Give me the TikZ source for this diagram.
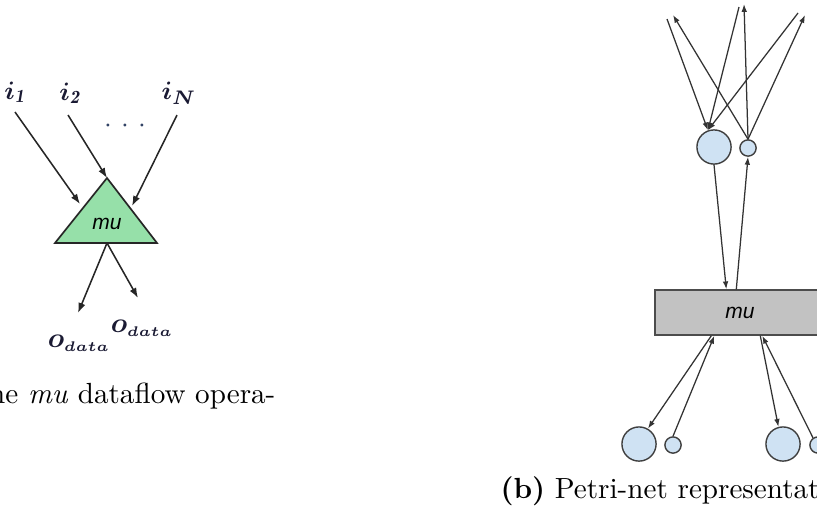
\documentclass[tikz,border=0pt]{standalone}
\usepackage{fontspec}
\usepackage{amsmath,bm}
\usetikzlibrary{arrows.meta,calc}
\newfontfamily\arialfont{Liberation Sans}
\definecolor{placeblue}{HTML}{CFE2F3}
\definecolor{trigreen}{HTML}{96E0A9}
\definecolor{boxgray}{HTML}{C2C2C2}
\definecolor{labelcol}{HTML}{1A1A33}
\definecolor{dotcol}{HTML}{334466}
\begin{document}
\begin{tikzpicture}[x=0.357pt,y=-0.357pt,
  larr/.style={line width=0.55pt,draw=black!85,-{Latex[length=3.6pt,width=2.6pt]}},
  rarr/.style={line width=0.45pt,draw=black!80,-{Latex[length=2.8pt,width=2pt]}},
  bigplace/.style={circle,draw=black!75,line width=0.5pt,fill=placeblue,minimum size=12.2pt,inner sep=0pt},
  smallplace/.style={circle,draw=black!75,line width=0.5pt,fill=placeblue,minimum size=5.8pt,inner sep=0pt},
  opfont/.style={font=\arialfont\itshape\fontsize{7.5}{8}\selectfont},
  opbox/.style={rectangle,draw=black!70,line width=0.5pt,fill=boxgray,minimum width=60.7pt,minimum height=16.1pt,inner sep=0pt,opfont},
  ilbl/.style={text=labelcol,inner sep=0pt,font=\fontsize{9.5}{10}\selectfont},
  olbl/.style={text=labelcol,inner sep=0pt},
  captext/.style={inner sep=0pt,font=\fontsize{10.4}{12}\selectfont}]
\useasboundingbox (0,0) rectangle (817,517);

% ---- (a) dataflow operator ----
\coordinate (TA) at (107,178);
\coordinate (TL) at (55,243);
\coordinate (TR) at (157,243);
\coordinate (TB) at (107,243);
\filldraw[fill=trigreen,draw=black!85,line width=0.6pt] (TA) -- (TR) -- (TL) -- cycle;
\node[opfont] (mu1) at (107,224) {mu};

\node[ilbl] (i1) at (15,92) {$\bm{i}_{\bm{\mathit{1}}}$};
\node[ilbl] (i2) at (70,93) {$\bm{i}_{\bm{\mathit{2}}}$};
\node[ilbl] (iN) at (179,93) {$\bm{i}_{\bm{N}}$};
\node[text=dotcol,inner sep=0pt] (dots) at (125,126) {$\cdot$\hspace{3.3pt}$\cdot$\hspace{3.3pt}$\cdot$};

\coordinate (s1) at (15,112);
\coordinate (s2) at (68,115);
\coordinate (s3) at (177,115);
\coordinate (e1) at (80,204);
\coordinate (e3) at (132,206);
\draw[larr] (s1) -- (e1);
\draw[larr] (s2) -- (TA);
\draw[larr] (s3) -- (e3);

\coordinate (p1) at (78,313);
\coordinate (p2) at (138,298);
\draw[larr] (TB) -- (p1);
\draw[larr] (TB) -- (p2);
\node[olbl] (o1) at (79,343) {$\bm{o}_{\scriptscriptstyle\bm{data}}$};
\node[olbl] (o2) at (142,328) {$\bm{o}_{\scriptscriptstyle\bm{data}}$};

\node[captext,anchor=base east] (capa) at (276,403) {the \textit{mu} dataflow opera-};

% ---- (b) Petri-net ----
\node[bigplace] (B1) at (714,147) {};
\node[smallplace] (S1) at (748,148) {};
\node[opbox] (M) at (740,312.5) {mu};
\node[bigplace] (B2) at (639,444) {};
\node[smallplace] (S2) at (673,445) {};
\node[bigplace] (B3) at (783,444) {};
\node[smallplace] (S4) at (818,445) {};

\coordinate (t1) at (667,19);
\coordinate (t2) at (739,7);
\coordinate (t3) at (798,13);
\coordinate (u1) at (673,15);
\coordinate (u2) at (744,4);
\coordinate (u3) at (805,15);
\foreach \t in {t1,t2,t3} \draw[rarr] (\t) -- (B1.110);
\foreach \u in {u1,u2,u3} \draw[rarr] (S1.north) -- (\u);

\draw[rarr] (B1.south) -- ($(M.north west)+(72,0)$);
\draw[rarr] ($(M.north west)+(82,0)$) -- (S1.south);
\draw[rarr] ($(M.south west)+(57,0)$) -- (B2.60);
\draw[rarr] (S2.north) -- ($(M.south west)+(60,0)$);
\draw[rarr] ($(M.south west)+(106,0)$) -- (B3.105);
\draw[rarr] (S4.125) -- ($(M.south west)+(108,0)$);

\node[captext,anchor=base west] (capb) at (500,498) {\textbf{(b)} Petri-net representation of};
\end{tikzpicture}
\end{document}
